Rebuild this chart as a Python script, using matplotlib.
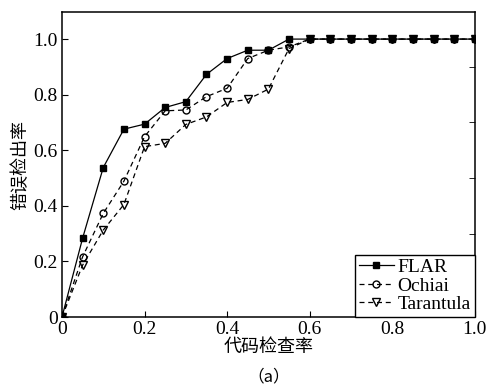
import matplotlib
matplotlib.use('Agg')
import matplotlib.pyplot as plt
import numpy as np

plt.rcParams['font.family'] = ['Liberation Serif', 'Noto Sans CJK SC']

# Code inspection ratio (x) and fault detection ratio (y) per method
x = [0.0, 0.05, 0.10, 0.15, 0.20, 0.25, 0.30, 0.35, 0.40, 0.45, 0.50,
     0.55, 0.60, 0.65, 0.70, 0.75, 0.80, 0.85, 0.90, 0.95, 1.0]
flar = [0.0, 0.284, 0.538, 0.676, 0.694, 0.754, 0.775, 0.873, 0.93, 0.96, 0.96,
        1.0, 1.0, 1.0, 1.0, 1.0, 1.0, 1.0, 1.0, 1.0, 1.0]
ochiai = [0.0, 0.217, 0.373, 0.489, 0.649, 0.742, 0.745, 0.793, 0.823, 0.93, 0.96,
          0.972, 1.0, 1.0, 1.0, 1.0, 1.0, 1.0, 1.0, 1.0, 1.0]
tarantula = [0.0, 0.187, 0.313, 0.405, 0.613, 0.625, 0.693, 0.72, 0.772, 0.783, 0.82,
             0.966, 1.0, 1.0, 1.0, 1.0, 1.0, 1.0, 1.0, 1.0, 1.0]

tick_vals = [0, 0.2, 0.4, 0.6, 0.8, 1.0]
tick_labels = ['0', '0.2', '0.4', '0.6', '0.8', '1.0']

fig = plt.figure(figsize=(4.88, 3.91), dpi=100)
ax = fig.add_axes([0.127, 0.189, 0.846, 0.78])

ax.plot(x, flar, color='black', linestyle='-', linewidth=0.9,
        marker='s', markersize=5, markerfacecolor='black', label='FLAR')
ax.plot(x, ochiai, color='black', linestyle=(0, (4, 3)), linewidth=0.9,
        marker='o', markersize=5, markerfacecolor='none', label='Ochiai')
ax.plot(x, tarantula, color='black', linestyle=(0, (4, 3)), linewidth=0.9,
        marker='v', markersize=5.5, markerfacecolor='none', label='Tarantula')

ax.set_xlim(0, 1.0)
ax.set_ylim(0, 1.097)
ax.set_xticks(tick_vals)
ax.set_xticklabels(tick_labels)
ax.set_yticks(tick_vals)
ax.set_yticklabels(tick_labels)
ax.set_yticks(np.arange(0.1, 1.05, 0.1), minor=True)
ax.tick_params(axis='both', which='major', direction='in', length=4,
               labelsize=14, top=False, right=False, pad=3)
ax.tick_params(axis='y', which='minor', direction='in', length=4,
               left=False, right=True)
for sp in ax.spines.values():
    sp.set_linewidth(1.1)

ax.set_xlabel('代码检查率', family=['Noto Sans CJK SC'], fontsize=13, labelpad=0)
ax.set_ylabel('错误检出率', family=['Noto Sans CJK SC'], fontsize=13, labelpad=3)

leg = ax.legend(loc='lower right', borderaxespad=0, fontsize=14,
                handlelength=1.8, handletextpad=0.2, labelspacing=0.05,
                borderpad=0.2, fancybox=False, framealpha=1)
leg.get_frame().set_edgecolor('black')
leg.get_frame().set_linewidth(1.0)

fig.text(0.55, 0.025, '（a）', family=['Noto Sans CJK SC'], fontsize=12, ha='center')

fig.savefig('out.png', dpi=100)
